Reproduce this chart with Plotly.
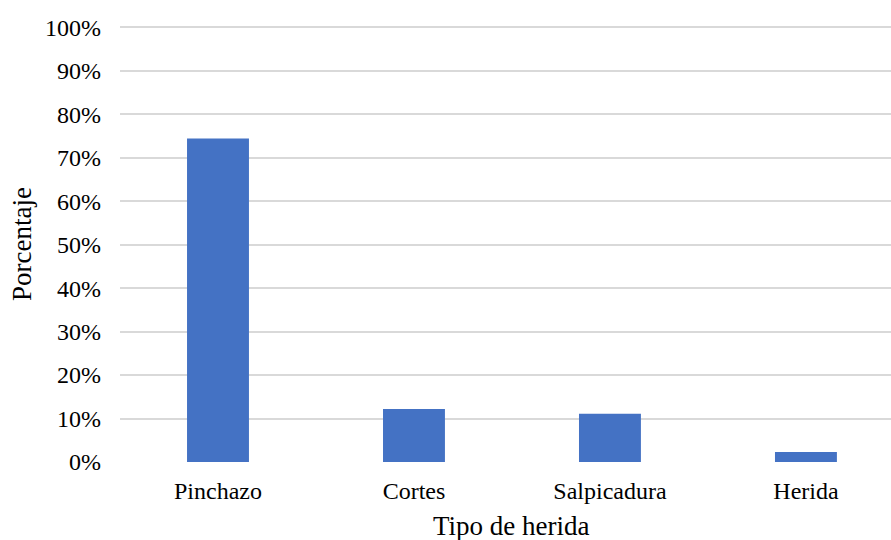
import plotly.graph_objects as go

# Distribución de tipos de herida
tipos = ["Pinchazo", "Cortes", "Salpicadura", "Herida"]
porcentajes = [0.744, 0.122, 0.111, 0.023]
ticks_y = [i / 10 for i in range(11)]
etiquetas_y = [f"{i * 10}%" for i in range(11)]

fuente = "Liberation Serif, Times New Roman, serif"

fig = go.Figure(
    go.Bar(
        x=list(range(len(tipos))),
        y=porcentajes,
        width=0.316,
        marker=dict(color="#4472C4", line=dict(width=0)),
        hoverinfo="skip",
    )
)

fig.update_layout(
    width=891,
    height=540,
    margin=dict(l=120, r=0, t=26, b=78),
    plot_bgcolor="white",
    paper_bgcolor="white",
    showlegend=False,
    font=dict(family=fuente, color="black", size=24),
    annotations=[
        dict(text="Tipo de herida", xref="x", yref="paper", x=1.5, y=-0.147,
             showarrow=False, font=dict(size=27), xanchor="center", yanchor="middle"),
        dict(text="Porcentaje", xref="paper", yref="paper", x=-0.127, y=0.5,
             showarrow=False, font=dict(size=27), textangle=-90,
             xanchor="center", yanchor="middle"),
    ],
)

fig.update_xaxes(
    range=[-0.5, 3.434],
    tickmode="array",
    tickvals=list(range(len(tipos))),
    ticktext=tipos,
    showgrid=False,
    showline=False,
    zeroline=False,
    ticks="",
    ticklabelstandoff=12,
    tickfont=dict(size=24),
)

fig.update_yaxes(
    range=[0, 1.003],
    tickmode="array",
    tickvals=ticks_y,
    ticktext=etiquetas_y,
    showgrid=True,
    gridcolor="#d9d9d9",
    gridwidth=1.5,
    zeroline=False,
    showline=False,
    ticks="",
    ticklabelstandoff=18,
    tickfont=dict(size=24),
)

fig.write_html("out.html")
